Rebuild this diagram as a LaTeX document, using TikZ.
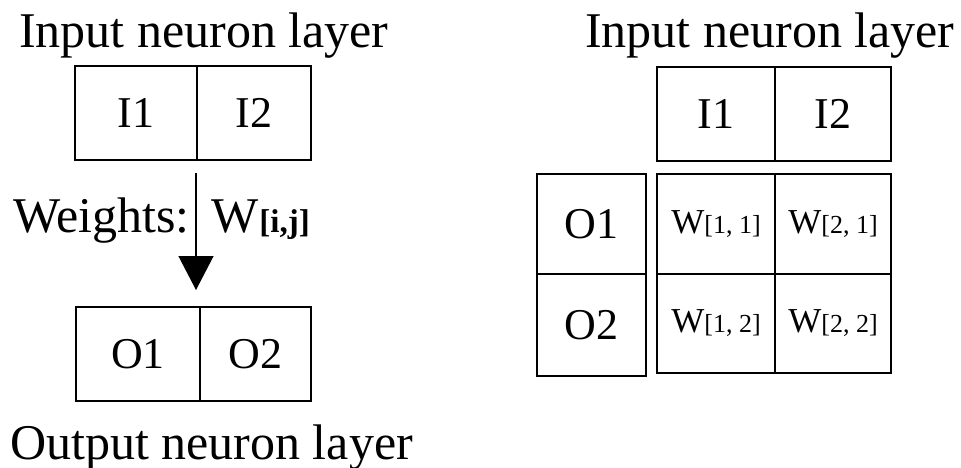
\documentclass[tikz,border=0pt]{standalone}
\usepackage{fontspec}
\setmainfont{Liberation Serif}
\usetikzlibrary{arrows.meta}
\begin{document}
\begin{tikzpicture}[x=1pt,y=-1pt,
  cell/.style={draw,line width=1.3pt,inner sep=0pt,font=\fontsize{44}{50}\selectfont},
  ttl/.style={inner sep=0pt,font=\fontsize{50}{60}\selectfont},
  wcell/.style={cell,font=\fontsize{35}{40}\selectfont}]
\useasboundingbox (0,0) rectangle (961,468);
\newcommand{\wsub}[1]{{\fontsize{26}{30}\selectfont[#1]}}
% titles
\node[ttl,anchor=base west] (tl) at (19,48) {Input neuron layer};
\node[ttl,anchor=base west] (tr) at (585,48) {Input neuron layer};
\node[ttl,anchor=base west] (tout) at (10,459) {Output neuron layer};
% left input layer
\node[cell,minimum width=122pt,minimum height=94pt] (LI1) at (136,113) {I1};
\node[cell,minimum width=114pt,minimum height=94pt] (LI2) at (254,113) {I2};
% left output layer
\node[cell,minimum width=124pt,minimum height=94pt] (LO1) at (138,354) {O1};
\node[cell,minimum width=111pt,minimum height=94pt] (LO2) at (255.5,354) {O2};
% arrow
\coordinate (aS) at (196,173);
\coordinate (aE) at (196,290);
\draw[line width=1.3pt,-{Triangle[width=35pt,length=34pt]}] (aS) -- (aE);
\node[ttl,anchor=base east] (wlab) at (190,232) {Weights:};
\node[ttl,anchor=base west] (wij) at (211,232) {W\hspace{1pt}{\fontsize{33}{40}\selectfont\bfseries[i,j]}};
% right input layer
\node[cell,minimum width=118pt,minimum height=94pt] (RI1) at (716,114) {I1};
\node[cell,minimum width=116pt,minimum height=94pt] (RI2) at (833,114) {I2};
% right output layer
\node[cell,minimum width=109pt,minimum height=100pt] (RO1) at (591.5,224) {O1};
\node[cell,minimum width=109pt,minimum height=102pt] (RO2) at (591.5,325) {O2};
% weight grid
\node[wcell,minimum width=118pt,minimum height=100pt] (W11) at (716,224) {W\wsub{1, 1}};
\node[wcell,minimum width=116pt,minimum height=100pt] (W21) at (833,224) {W\wsub{2, 1}};
\node[wcell,minimum width=118pt,minimum height=99pt] (W12) at (716,323.5) {W\wsub{1, 2}};
\node[wcell,minimum width=116pt,minimum height=99pt] (W22) at (833,323.5) {W\wsub{2, 2}};
\end{tikzpicture}
\end{document}
